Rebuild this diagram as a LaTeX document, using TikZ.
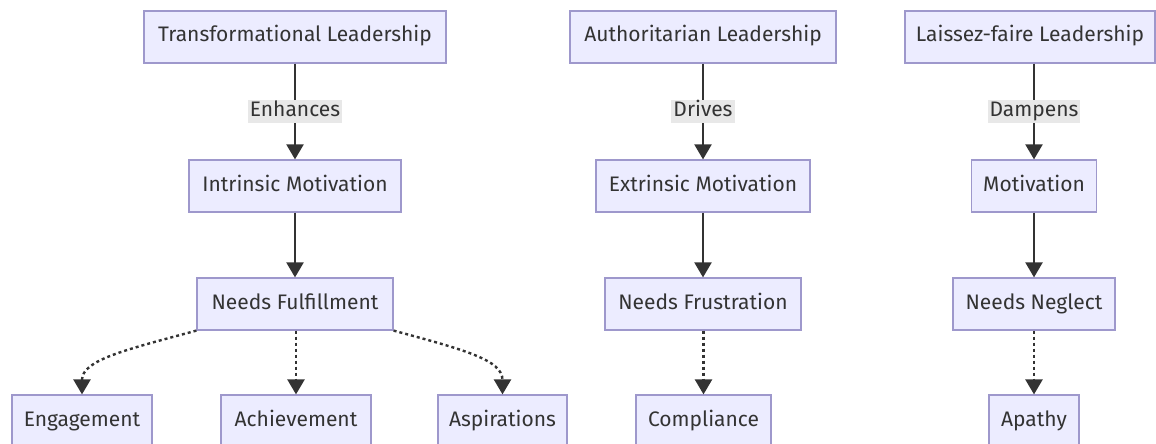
\documentclass[tikz,border=0pt]{standalone}
\usepackage{fontspec}
\setmainfont{Fira Sans}
\usetikzlibrary{arrows.meta}
\definecolor{boxfill}{HTML}{ECECFF}
\definecolor{boxline}{RGB}{158,152,204}
\definecolor{textc}{HTML}{333333}
\definecolor{lblfill}{HTML}{E8E8E8}
\newcommand{\diagfont}{\fontsize{21}{25}\selectfont}
\tikzset{
  box/.style={draw=boxline, fill=boxfill, line width=1.2pt, minimum height=52pt, text=textc, inner sep=0pt, text height=15pt, text depth=5pt, font=\diagfont},
  lbl/.style={fill=lblfill, text=textc, inner xsep=2pt, inner ysep=1.5pt, text height=15pt, text depth=5pt, font=\diagfont, midway},
  solidarrow/.style={draw=textc, line width=2.2pt, -{Triangle[width=17pt,length=15pt]}},
  dotarrow/.style={draw=textc, line width=2.4pt, dash pattern=on 3pt off 3pt, -{Triangle[width=17pt,length=15pt]}}
}
\begin{document}
\begin{tikzpicture}[x=1pt,y=-1pt]
\useasboundingbox (0,0) rectangle (1156,444);
\clip (0,0) rectangle (1156,444);
\fill[white] (0,0) rectangle (1156,444);
% column 1
\node[box, minimum width=302pt] (tl) at (295,37) {Transformational Leadership};
\node[box, minimum width=212pt] (im) at (295,186) {Intrinsic Motivation};
\node[box, minimum width=196pt] (nf) at (295,304) {Needs Fulfillment};
\node[box, minimum width=140pt] (en) at (82,421) {Engagement};
\node[box, minimum width=150pt] (ac) at (296,421) {Achievement};
\node[box, minimum width=129pt] (as) at (502.5,421) {Aspirations};
% column 2
\node[box, minimum width=266pt] (al) at (703,37) {Authoritarian Leadership};
\node[box, minimum width=214pt] (em) at (703,186) {Extrinsic Motivation};
\node[box, minimum width=196pt] (nfr) at (703,304) {Needs Frustration};
\node[box, minimum width=135pt] (co) at (703.5,421) {Compliance};
% column 3
\node[box, minimum width=250pt] (lf) at (1030,37) {Laissez-faire Leadership};
\node[box, minimum width=125pt] (mo) at (1034,186) {Motivation};
\node[box, minimum width=162pt] (nn) at (1034,304) {Needs Neglect};
\node[box, minimum width=90pt] (ap) at (1034,421) {Apathy};
% edges column 1
\draw[solidarrow] (tl.south) -- node[lbl] {Enhances} (im.north);
\draw[solidarrow] (im.south) -- (nf.north);
\draw[dotarrow] (nf.south west) .. controls (125,350) and (82,360) .. (en.north);
\draw[dotarrow] (nf.south -| ac.north) -- (ac.north);
\draw[dotarrow] (nf.south east) .. controls (465,350) and (502.5,360) .. (as.north);
% edges column 2
\draw[solidarrow] (al.south) -- node[lbl] {Drives} (em.north);
\draw[solidarrow] (em.south) -- (nfr.north);
\draw[dotarrow] (nfr.south -| co.north) -- (co.north);
% edges column 3
\draw[solidarrow] (lf.south -| mo.north) -- node[lbl] {Dampens} (mo.north);
\draw[solidarrow] (mo.south) -- (nn.north);
\draw[dotarrow] (nn.south) -- (ap.north);
\end{tikzpicture}
\end{document}
